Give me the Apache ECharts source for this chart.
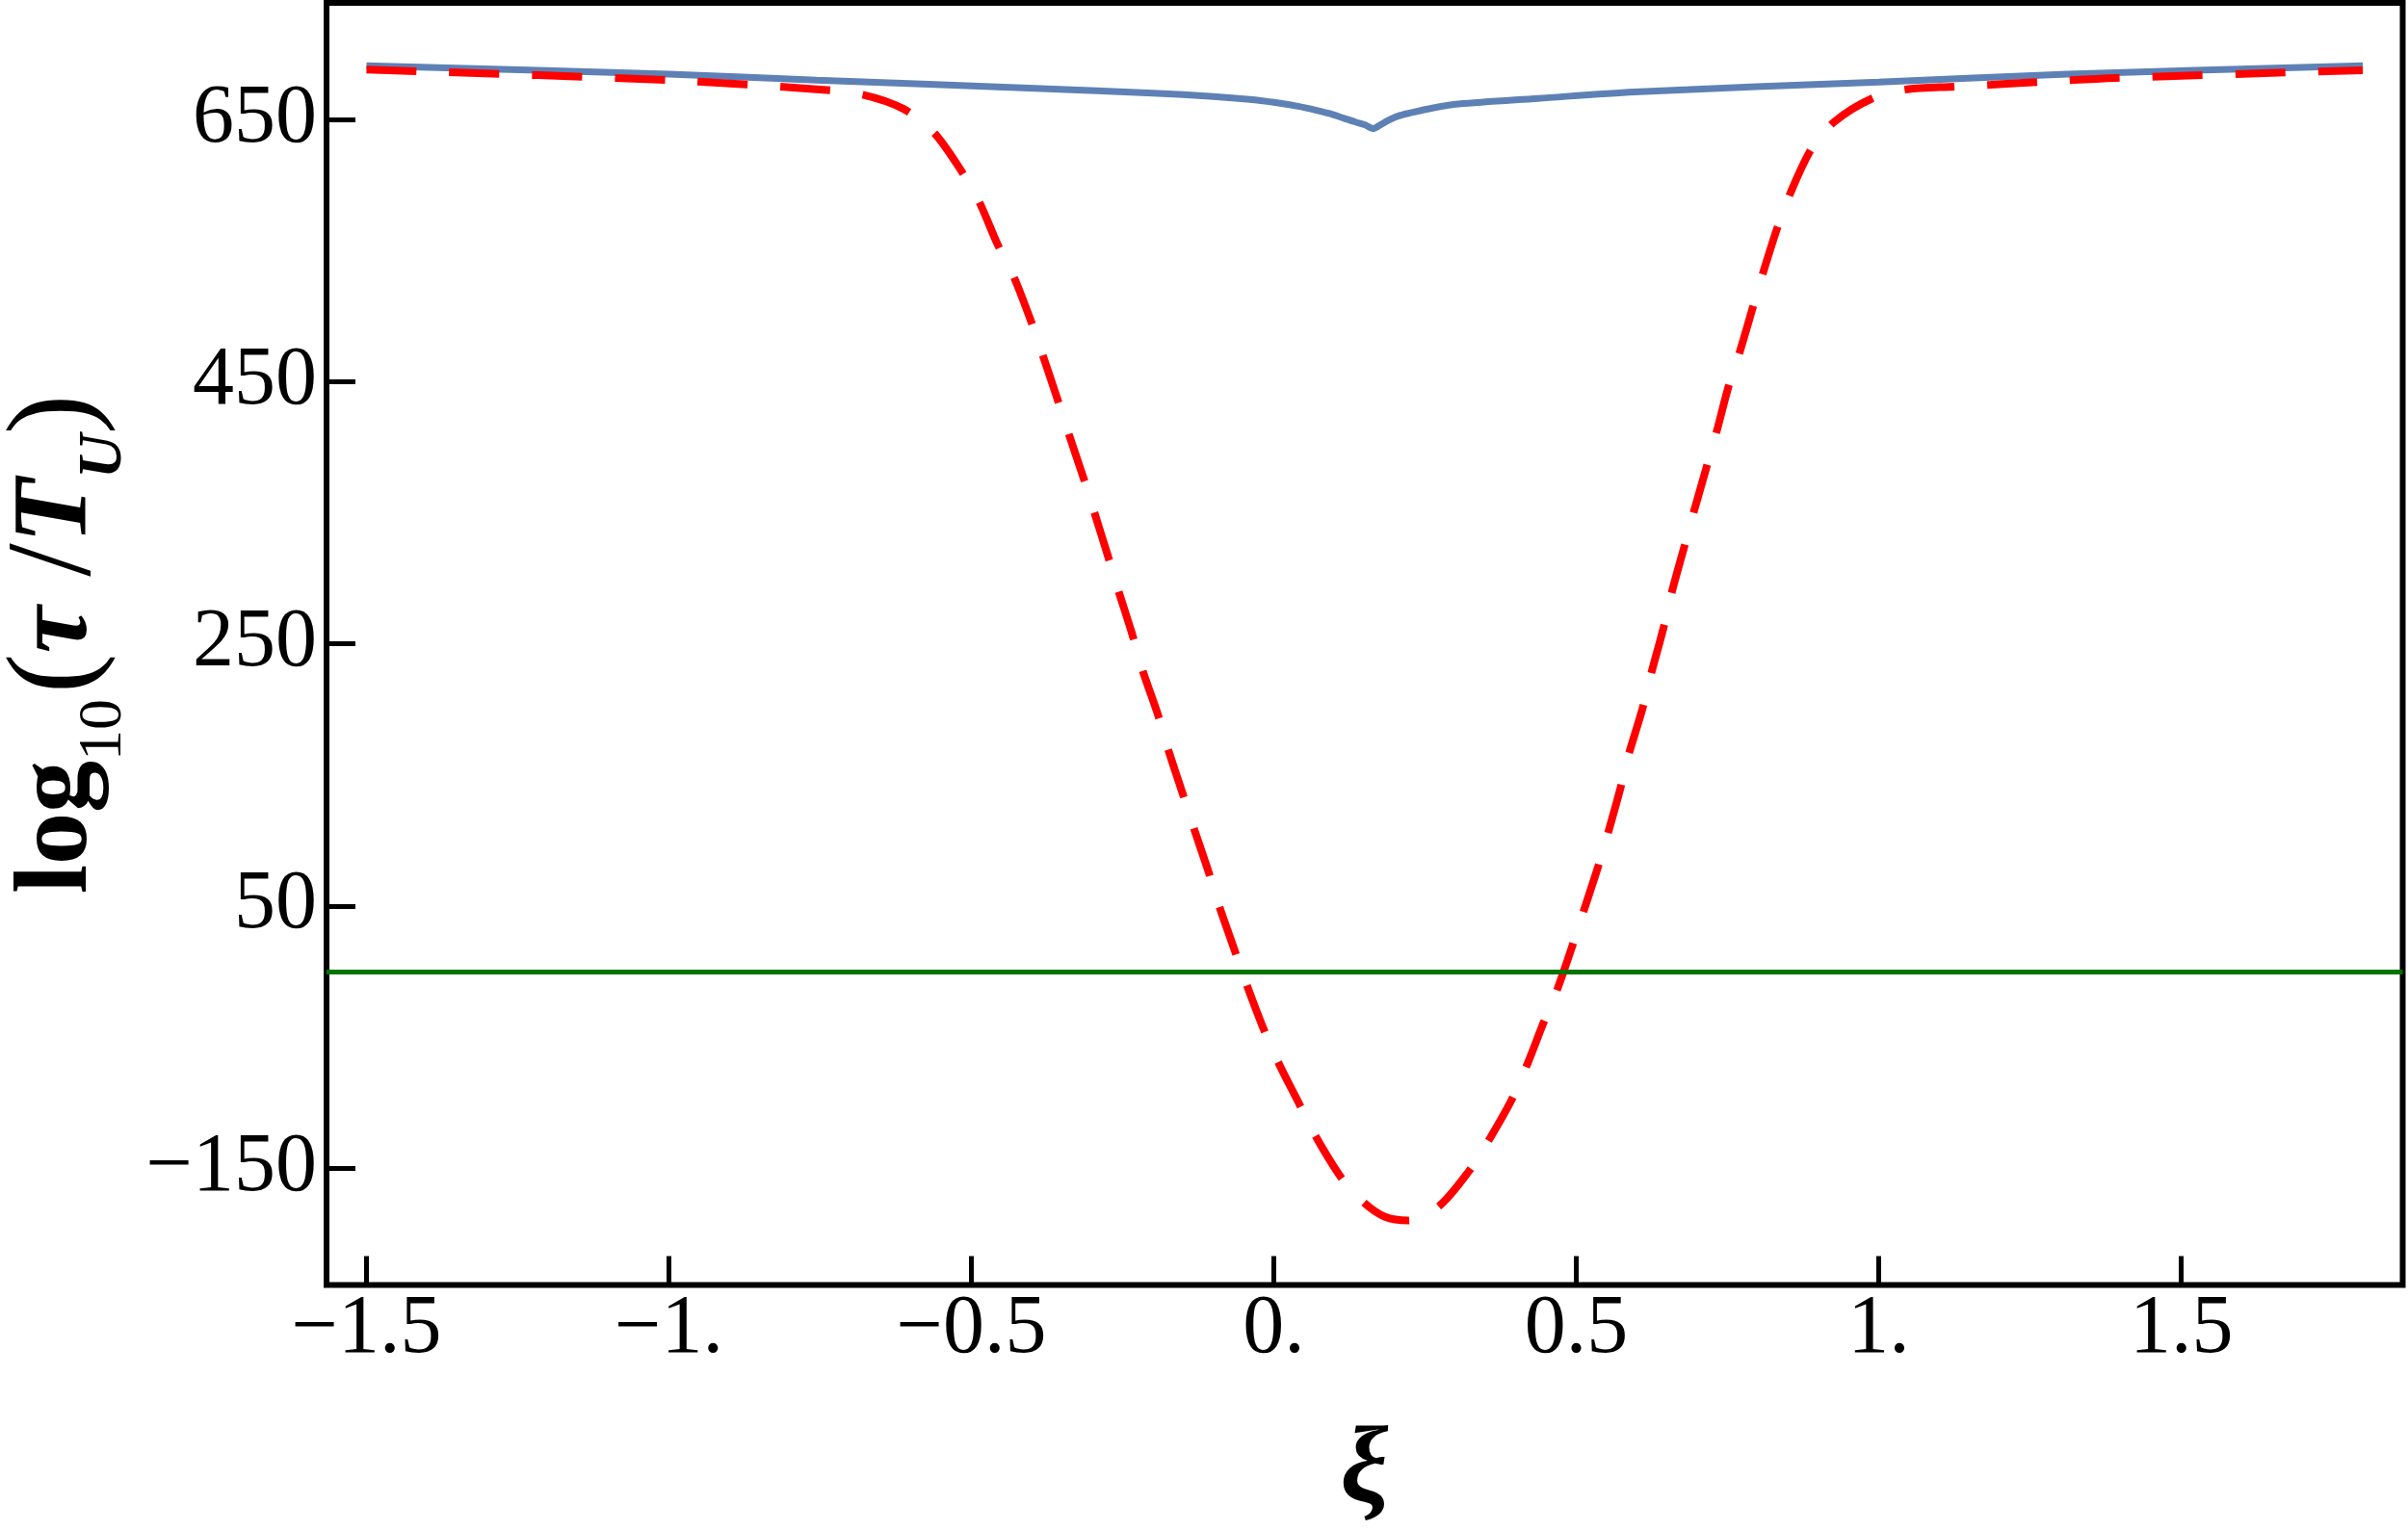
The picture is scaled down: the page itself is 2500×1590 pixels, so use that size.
<!DOCTYPE html>
<html>
<head>
<meta charset="utf-8">
<title>log10(tau/T_U) vs xi</title>
<script src="https://cdn.jsdelivr.net/npm/echarts@6.0.0/dist/echarts.min.js"></script>
<style>
  html, body { margin: 0; padding: 0; background: #fff; }
  #chart { width: 2500px; height: 1590px; }
</style>
</head>
<body>
<div id="chart"></div>
<script>
// solid blue curve
const blueXi = [-1.5, -1.0, -0.756, -0.385, -0.2, -0.1, -0.04, 0.0, 0.04, 0.07, 0.092, 0.115, 0.135, 0.150, 0.164, 0.175, 0.188, 0.205, 0.226, 0.26, 0.305, 0.437, 0.596, 1.0, 1.312, 1.8];
const blueVal = [691, 684.5, 680, 673.5, 670, 667.5, 665.3, 663, 660, 657, 654.5, 651, 648, 646, 643, 645.5, 649, 652.5, 655, 658.5, 661.7, 666, 671, 678.5, 684.5, 691];

// dashed red curve
const redXi = [-1.5, -1.0, -0.756, -0.681, -0.612, -0.562, -0.517, -0.488, -0.457, -0.430, -0.403, -0.382, -0.358,
  -0.339, -0.315, -0.298, -0.275, -0.258, -0.234, -0.218, -0.191, -0.178, -0.151, -0.135, -0.108, -0.092, -0.064,
  -0.045, -0.016, 0.008, 0.043, 0.067, 0.111, 0.148, 0.183, 0.222, 0.273, 0.323, 0.355, 0.393, 0.417, 0.445, 0.469,
  0.493, 0.512, 0.536, 0.552, 0.573, 0.585, 0.609, 0.623, 0.644, 0.657, 0.679, 0.695, 0.716, 0.732, 0.752, 0.771,
  0.792, 0.808, 0.832, 0.854, 0.888, 0.926, 0.989, 1.047, 1.126, 1.185, 1.264, 1.392, 1.8];
const redVal = [688, 680, 673, 669, 658, 640, 611, 588, 555, 530, 498, 470, 437,
  410, 377, 352, 318, 292, 257, 231, 195, 174, 136, 113, 76, 52, 15,
  -10, -45, -70, -102, -124, -157, -176, -187, -190, -179, -152, -129, -98, -73, -40, -13,
  19, 46, 80, 105, 140, 163, 200, 226, 262, 288, 325, 352, 386, 412, 447, 474,
  507, 532, 567, 594, 627, 648, 666, 673, 675, 676.5, 678.6, 681.6, 687.5];

// green reference level
const thresholdVal = 0;

// axis ticks
const xTicks = [-1.5, -1, -0.5, 0, 0.5, 1, 1.5];
const xTickLabels = ["\u22121.5", "\u22121.", "\u22120.5", "0.", "0.5", "1.", "1.5"];
const yTicks = [-150, 50, 250, 450, 650];
const yTickLabels = ["\u2212150", "50", "250", "450", "650"];

function pairs(xs, ys) {
  return xs.map(function (x, i) { return [x, ys[i]]; });
}

function tickText(ticks, labels) {
  return function (v) {
    const i = ticks.findIndex(function (t) { return Math.abs(t - v) < 1e-9; });
    return i >= 0 ? labels[i] : "";
  };
}

const serif = "'Liberation Serif', 'DejaVu Serif', serif";

const chart = echarts.init(document.getElementById("chart"));
chart.setOption({
  animation: false,
  backgroundColor: "#fff",
  grid: {
    left: 339,
    right: 5.5,
    top: 3,
    bottom: 255.5,
    outerBoundsMode: "none",
    containLabel: false,
    show: true,
    borderColor: "#000",
    borderWidth: 6,
    backgroundColor: "transparent"
  },
  xAxis: {
    type: "value",
    min: -1.566,
    max: 1.866,
    splitLine: { show: false },
    axisLine: { show: false, onZero: false },
    axisTick: {
      show: true,
      inside: true,
      length: 30,
      customValues: xTicks,
      lineStyle: { color: "#000", width: 5 }
    },
    axisLabel: {
      customValues: xTicks,
      margin: 4,
      fontFamily: serif,
      fontSize: 86,
      color: "#000",
      formatter: tickText(xTicks, xTickLabels)
    },
    name: "{x|\u03be}",
    nameLocation: "middle",
    nameGap: 140,
    nameTextStyle: {
      rich: {
        x: { fontFamily: serif, fontSize: 112, fontWeight: "bold", fontStyle: "italic", color: "#000" }
      }
    }
  },
  yAxis: {
    type: "value",
    min: -239.2,
    max: 738.9,
    splitLine: { show: false },
    axisLine: { show: false, onZero: false },
    axisTick: {
      show: true,
      inside: true,
      length: 30,
      customValues: yTicks,
      lineStyle: { color: "#000", width: 5 }
    },
    axisLabel: {
      customValues: yTicks,
      margin: 10,
      fontFamily: serif,
      fontSize: 86,
      color: "#000",
      formatter: tickText(yTicks, yTickLabels)
    },
    name: "{b|log}{s|10}{p|(}{i|\u03c4}{p| /}{i|T}{u|U}{p|)}",
    nameLocation: "middle",
    nameRotate: 90,
    nameGap: 178,
    nameTextStyle: {
      rich: {
        b: { fontFamily: serif, fontSize: 108, fontWeight: "bold", color: "#000", lineHeight: 160, verticalAlign: "middle" },
        s: { fontFamily: serif, fontSize: 64, color: "#000", lineHeight: 64, verticalAlign: "bottom", padding: [0, 6, 0, 0] },
        p: { fontFamily: serif, fontSize: 124, color: "#000", lineHeight: 160, verticalAlign: "middle" },
        i: { fontFamily: serif, fontSize: 110, fontWeight: "bold", fontStyle: "italic", color: "#000", lineHeight: 160, verticalAlign: "middle" },
        u: { fontFamily: serif, fontSize: 64, fontWeight: "bold", fontStyle: "italic", color: "#000", lineHeight: 64, verticalAlign: "bottom" }
      }
    }
  },
  series: [
    {
      name: "blue",
      type: "line",
      data: pairs(blueXi, blueVal),
      showSymbol: false,
      smooth: 0.3,
      lineStyle: { color: "#5E81B5", width: 7 },
      z: 2
    },
    {
      name: "red",
      type: "line",
      data: pairs(redXi, redVal),
      showSymbol: false,
      smooth: 0.3,
      lineStyle: { color: "#FF0000", width: 8, type: [52, 34], cap: "butt" },
      z: 3
    },
    {
      name: "level",
      type: "line",
      data: [],
      markLine: {
        silent: true,
        symbol: "none",
        label: { show: false },
        lineStyle: { color: "#007300", width: 5, type: "solid" },
        data: [{ yAxis: thresholdVal }]
      },
      z: 4
    }
  ]
});
</script>
</body>
</html>
